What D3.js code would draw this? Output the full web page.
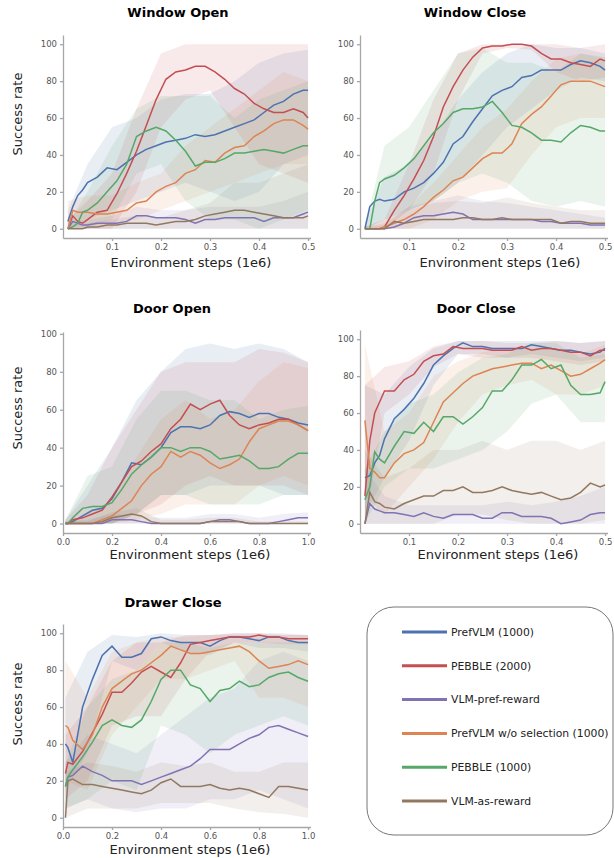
<!DOCTYPE html>
<meta charset="utf-8">
<style>
body { margin: 0; background: #fff; }
svg text { font-family: "DejaVu Sans", sans-serif; }
.axis path, .axis line { stroke: #a6a6a6; stroke-width: 1.3; }
.axis text { fill: #555; font-size: 8.5px; }
</style>
<body>
<svg width="614" height="858"></svg>
<script src="https://d3js.org/d3.v7.min.js"></script>
<script>
// legend order == series order in every array below
const SERIES = ["PrefVLM (1000)", "PEBBLE (2000)", "VLM-pref-reward",
                "PrefVLM w/o selection (1000)", "PEBBLE (1000)", "VLM-as-reward"];
const COLORS = ["#4C72B0", "#C44E52", "#8172B3", "#DD8452", "#55A868", "#937860"];

// x positions (1e6 env steps)
const STEPS_HALF = [0.01,0.02,0.03,0.04,0.05,0.07,0.09,0.11,0.13,0.15,0.17,0.19,0.21,0.23,
                    0.25,0.27,0.29,0.31,0.33,0.35,0.37,0.39,0.41,0.43,0.45,0.47,0.49,0.50];
const STEPS_FULL = [0.01,0.02,0.04,0.08,0.12,0.16,0.20,0.24,0.28,0.32,0.36,0.40,0.44,0.48,
                    0.52,0.56,0.60,0.64,0.68,0.72,0.76,0.80,0.84,0.88,0.92,0.96,1.00];
const BAND_HALF = [0.01,0.05,0.10,0.15,0.20,0.25,0.30,0.35,0.40,0.45,0.50];
const BAND_FULL = [0.01,0.10,0.20,0.30,0.40,0.50,0.60,0.70,0.80,0.90,1.00];
const TICKS_HALF = [0.1,0.2,0.3,0.4,0.5];
const TICKS_FULL = [0.0,0.2,0.4,0.6,0.8,1.0];
const Y_TICKS = [0,20,40,60,80,100];

// ---- Window Open ----
const winOpenMean = [
  [4,12,18,21,25,28,33,32,36,40,43,45,47,48,49,51,50,51,53,55,57,59,63,67,69,73,75,75],
  [0,7,4,3,5,9,10,19,30,42,56,70,81,85,86,88,88,85,81,76,73,68,65,63,63,65,63,60],
  [0,4,3,2,2,3,3,3,4,7,7,6,6,6,5,3,5,5,6,6,6,6,4,6,6,6,8,9],
  [0,10,9,9,9,8,8,9,10,14,15,20,23,25,30,32,37,36,41,44,45,50,53,57,59,59,56,54],
  [0,1,3,9,10,14,20,26,35,50,53,55,53,48,42,34,36,36,38,41,41,42,43,42,41,43,45,45],
  [0,0,0,0,1,1,2,2,3,3,3,2,3,4,4,5,7,8,9,10,10,9,8,7,6,6,6,7]
];
const winOpenLow = [
  [0,5,10,15,20,25,20,15,20,35,40],
  [0,0,0,20,55,70,75,55,35,30,25],
  [0,0,0,0,0,0,0,0,0,0,0],
  [0,2,3,5,10,15,20,25,30,35,35],
  [0,0,5,30,35,15,5,5,0,5,10],
  [0,0,0,0,0,0,0,0,0,0,0]
];
const winOpenHigh = [
  [10,35,55,60,70,73,73,80,90,95,97],
  [5,15,30,65,95,100,100,100,100,100,100],
  [3,5,7,12,10,10,12,12,12,15,20],
  [15,18,18,25,30,45,55,65,75,85,80],
  [3,20,45,65,72,72,72,60,70,75,80],
  [1,3,5,7,6,10,14,25,25,30,35]
];

// ---- Window Close ----
const winCloseMean = [
  [0,12,15,16,15,16,20,22,25,30,36,46,50,58,65,72,75,77,82,83,86,86,86,89,91,90,88,86],
  [0,0,0,0,1,10,18,27,37,50,66,77,86,93,98,99,99,100,100,99,95,92,92,90,89,88,92,91],
  [0,0,0,0,0,1,3,6,7,7,8,9,8,5,5,5,5,5,5,5,4,4,3,3,3,2,2,2],
  [0,0,0,0,1,3,5,8,12,17,21,26,28,33,38,41,41,46,57,62,66,72,78,80,80,80,78,77],
  [0,0,15,25,27,29,33,38,45,52,57,63,65,65,66,69,63,56,55,52,48,48,47,52,56,55,53,53],
  [0,0,0,0,0,4,3,4,5,5,5,5,6,6,5,5,6,5,5,5,5,5,3,4,4,3,3,3]
];
const winCloseLow = [
  [0,5,10,15,25,40,55,65,75,82,80],
  [0,0,10,30,70,95,98,97,85,80,82],
  [0,0,0,0,0,0,0,0,0,0,0],
  [0,0,0,5,15,20,22,40,55,60,60],
  [0,5,10,15,25,30,25,15,12,15,12],
  [0,0,0,0,0,0,0,0,0,0,0]
];
const winCloseHigh = [
  [3,28,35,50,70,85,95,100,98,98,95],
  [1,5,35,70,95,100,100,100,100,98,100],
  [1,2,12,15,18,15,14,12,10,8,6],
  [1,3,12,25,40,55,65,80,92,95,92],
  [1,45,55,75,95,98,90,90,85,95,93],
  [1,5,10,14,15,14,17,14,12,10,10]
];

// ---- Door Open ----
const doorOpenMean = [
  [0,0,1,4,7,8,13,22,32,31,35,40,48,51,51,50,52,57,59,58,56,58,58,56,55,53,52],
  [0,0,2,3,5,7,14,22,30,33,38,42,50,55,63,60,63,65,57,52,50,52,53,55,55,52,49],
  [0,0,0,0,0,0,2,2,2,1,0,0,0,0,0,0,1,2,2,1,0,0,0,1,2,3,3],
  [0,0,0,0,0,2,4,8,12,20,26,30,38,35,38,36,32,29,31,34,43,50,52,54,54,52,49],
  [0,0,3,8,9,9,11,18,26,31,35,40,40,38,40,40,38,34,35,36,33,29,29,30,34,37,37],
  [0,0,0,0,0,1,3,4,5,4,1,0,0,0,0,0,1,1,1,1,0,0,0,0,0,0,0]
];
const doorOpenLow = [
  [0,0,0,5,15,15,20,20,20,15,15],
  [0,0,0,5,10,20,25,20,20,20,15],
  [0,0,0,0,0,0,0,0,0,0,0],
  [0,0,0,2,5,10,10,10,20,25,20],
  [0,0,0,5,15,15,10,10,10,15,15],
  [0,0,0,0,0,0,0,0,0,0,0]
];
const doorOpenHigh = [
  [2,20,40,65,80,92,95,92,95,92,85],
  [2,15,40,60,80,85,85,85,92,90,85],
  [1,2,5,4,3,3,5,5,3,5,6],
  [1,5,12,35,55,65,55,60,75,85,82],
  [2,25,30,55,70,70,65,65,55,60,62],
  [1,1,6,8,2,2,3,3,1,1,1]
];

// ---- Door Close ----
const doorCloseMean = [
  [25,26,33,37,46,57,62,68,76,86,91,95,98,96,96,95,95,95,95,97,96,95,94,94,93,92,93,95],
  [15,45,60,66,72,72,78,81,88,91,92,96,95,95,95,94,94,94,96,94,95,95,94,93,93,91,94,94],
  [0,11,8,7,6,6,5,4,6,4,3,5,5,5,3,3,6,6,4,4,4,3,0,1,2,5,6,6],
  [56,30,28,25,25,33,38,40,44,55,66,71,76,80,82,84,85,86,87,87,84,86,83,80,81,84,87,89],
  [13,20,39,35,33,42,50,49,55,50,58,58,54,58,63,72,72,78,86,86,89,84,86,75,70,70,71,77],
  [0,17,12,11,9,8,11,13,15,15,18,18,20,17,17,18,20,18,17,16,17,15,13,14,17,22,20,21]
];
const doorCloseLow = [
  [5,25,45,75,92,92,90,92,90,88,90],
  [0,60,70,85,92,90,90,90,88,86,88],
  [0,0,0,0,0,0,0,0,0,0,0],
  [15,5,20,35,55,70,75,78,70,70,75],
  [0,20,30,30,35,40,50,65,70,55,55],
  [0,0,0,0,5,5,2,0,0,0,2]
];
const doorCloseHigh = [
  [75,70,85,95,99,99,99,99,99,98,99],
  [75,85,88,96,99,99,98,98,99,98,99],
  [30,15,10,10,10,10,12,10,12,15,20],
  [97,50,60,80,88,93,95,95,95,92,97],
  [30,50,65,70,82,90,92,98,98,90,92],
  [40,25,30,40,40,45,40,45,45,40,45]
];

// ---- Drawer Close ----
const drawerMean = [
  [40,38,30,60,75,88,93,87,87,89,97,98,96,95,95,95,93,96,98,98,97,96,98,98,96,95,95],
  [24,30,29,36,46,56,68,68,73,79,82,79,76,84,94,95,96,97,98,98,98,99,98,98,97,97,97],
  [17,22,23,28,25,23,20,20,20,18,20,22,24,26,28,32,37,37,37,40,43,45,49,50,48,46,44],
  [50,49,42,37,45,60,70,74,78,80,84,88,93,91,89,89,90,91,92,93,90,85,81,82,83,85,83],
  [17,22,26,33,41,50,53,50,49,53,63,75,80,80,72,70,63,69,70,74,71,72,76,78,79,76,74],
  [0,20,21,18,18,17,16,15,14,13,15,19,21,17,17,17,18,16,15,16,15,13,11,17,17,16,15]
];
const drawerLow = [
  [15,35,85,80,95,90,88,95,92,92,90],
  [10,20,50,55,55,75,90,95,95,94,94],
  [5,10,5,3,5,5,10,10,15,10,5],
  [20,15,45,60,75,75,80,85,65,65,60],
  [5,10,20,15,50,45,35,45,50,55,50],
  [0,5,5,5,8,8,8,5,3,2,0]
];
const drawerHigh = [
  [65,90,99,98,100,99,99,100,100,100,99],
  [45,60,85,95,95,99,99,100,100,99,99],
  [30,45,40,35,45,55,65,70,85,90,85],
  [85,65,90,95,98,98,99,99,99,99,99],
  [30,60,75,80,95,95,92,95,95,95,95],
  [25,30,28,25,30,28,30,25,25,30,30]
];

var svg = d3.select("svg");

// layout of the five subplots
var panels = [
  {title: "Window Open", mean: winOpenMean, low: winOpenLow, high: winOpenHigh,
   steps: STEPS_HALF, band: BAND_HALF, ticks: TICKS_HALF, xmax: 0.505,
   left: 63, right: 310.5, bottom: 238, top: 35, ylab: 114, tx: 178, ty: 17, lx: 191, ly: 267},
  {title: "Window Close", mean: winCloseMean, low: winCloseLow, high: winCloseHigh,
   steps: STEPS_HALF, band: BAND_HALF, ticks: TICKS_HALF, xmax: 0.505,
   left: 360, right: 607.5, bottom: 238, top: 35, ylab: null, tx: 475, ty: 17, lx: 500, ly: 267},
  {title: "Door Open", mean: doorOpenMean, low: doorOpenLow, high: doorOpenHigh,
   steps: STEPS_FULL, band: BAND_FULL, ticks: TICKS_FULL, xmax: 1.01,
   left: 63, right: 310.5, bottom: 533, top: 332, ylab: 408, tx: 172, ty: 313, lx: 190, ly: 559, ytop: 101},
  {title: "Door Close", mean: doorCloseMean, low: doorCloseLow, high: doorCloseHigh,
   steps: STEPS_HALF, band: BAND_HALF, ticks: TICKS_HALF, xmax: 0.505,
   left: 360, right: 607.5, bottom: 533, top: 330, ylab: null, tx: 476, ty: 313, lx: 498, ly: 559},
  {title: "Drawer Close", mean: drawerMean, low: drawerLow, high: drawerHigh,
   steps: STEPS_FULL, band: BAND_FULL, ticks: TICKS_FULL, xmax: 1.01,
   left: 63, right: 310.5, bottom: 827, top: 624, ylab: 704, tx: 173, ty: 607, lx: 190, ly: 854}
];

panels.forEach(function(p) {
  var x = d3.scaleLinear().domain([0, p.xmax]).range([p.left, p.right]);
  var y = d3.scaleLinear().domain([-5, p.ytop || 105]).range([p.bottom, p.top]);
  var g = svg.append("g");

  // shaded spread
  p.low.forEach(function(lo, i) {
    var hi = p.high[i];
    var area = d3.area()
      .x(function(d, k) { return x(p.band[k]); })
      .y0(function(d, k) { return y(lo[k]); })
      .y1(function(d, k) { return y(hi[k]); });
    g.append("path").datum(lo)
      .attr("d", area)
      .attr("fill", COLORS[i])
      .attr("fill-opacity", 0.12);
  });

  // mean curves
  p.mean.forEach(function(vals, i) {
    var line = d3.line()
      .x(function(d, k) { return x(p.steps[k]); })
      .y(function(d) { return y(d); });
    g.append("path").datum(vals)
      .attr("d", line)
      .attr("fill", "none")
      .attr("stroke", COLORS[i])
      .attr("stroke-width", 1.5);
  });

  g.append("g").attr("class", "axis")
    .attr("transform", "translate(0," + p.bottom + ")")
    .call(d3.axisBottom(x).tickValues(p.ticks).tickSize(3).tickSizeOuter(0)
      .tickFormat(d3.format(".1f")));
  g.append("g").attr("class", "axis")
    .attr("transform", "translate(" + p.left + ",0)")
    .call(d3.axisLeft(y).tickValues(Y_TICKS).tickSize(3).tickSizeOuter(0));

  g.append("text")
    .attr("x", p.tx).attr("y", p.ty)
    .attr("text-anchor", "middle")
    .style("font-size", "13px").style("font-weight", "bold")
    .text(p.title);

  g.append("text")
    .attr("x", p.lx).attr("y", p.ly)
    .attr("text-anchor", "middle")
    .style("font-size", "13px").style("fill", "#222")
    .text("Environment steps (1e6)");

  if (p.ylab !== null) {
    g.append("text")
      .attr("transform", "translate(22," + p.ylab + ") rotate(-90)")
      .attr("text-anchor", "middle")
      .style("font-size", "13px").style("fill", "#222")
      .text("Success rate");
  }
});

// legend box
var legend = svg.append("g");
legend.append("rect")
  .attr("x", 367).attr("y", 607)
  .attr("width", 246).attr("height", 228)
  .attr("rx", 27).attr("ry", 27)
  .attr("fill", "#fff").attr("stroke", "#777").attr("stroke-width", 1);

var rowY = d3.scalePoint().domain(SERIES).range([632, 801]);
SERIES.forEach(function(name, i) {
  legend.append("line")
    .attr("x1", 402).attr("x2", 447)
    .attr("y1", rowY(name)).attr("y2", rowY(name))
    .attr("stroke", COLORS[i]).attr("stroke-width", 3);
  legend.append("text")
    .attr("x", 451).attr("y", rowY(name))
    .attr("dy", "0.35em")
    .style("font-size", "10.8px").style("fill", "#222")
    .text(name);
});
</script>
</body>
